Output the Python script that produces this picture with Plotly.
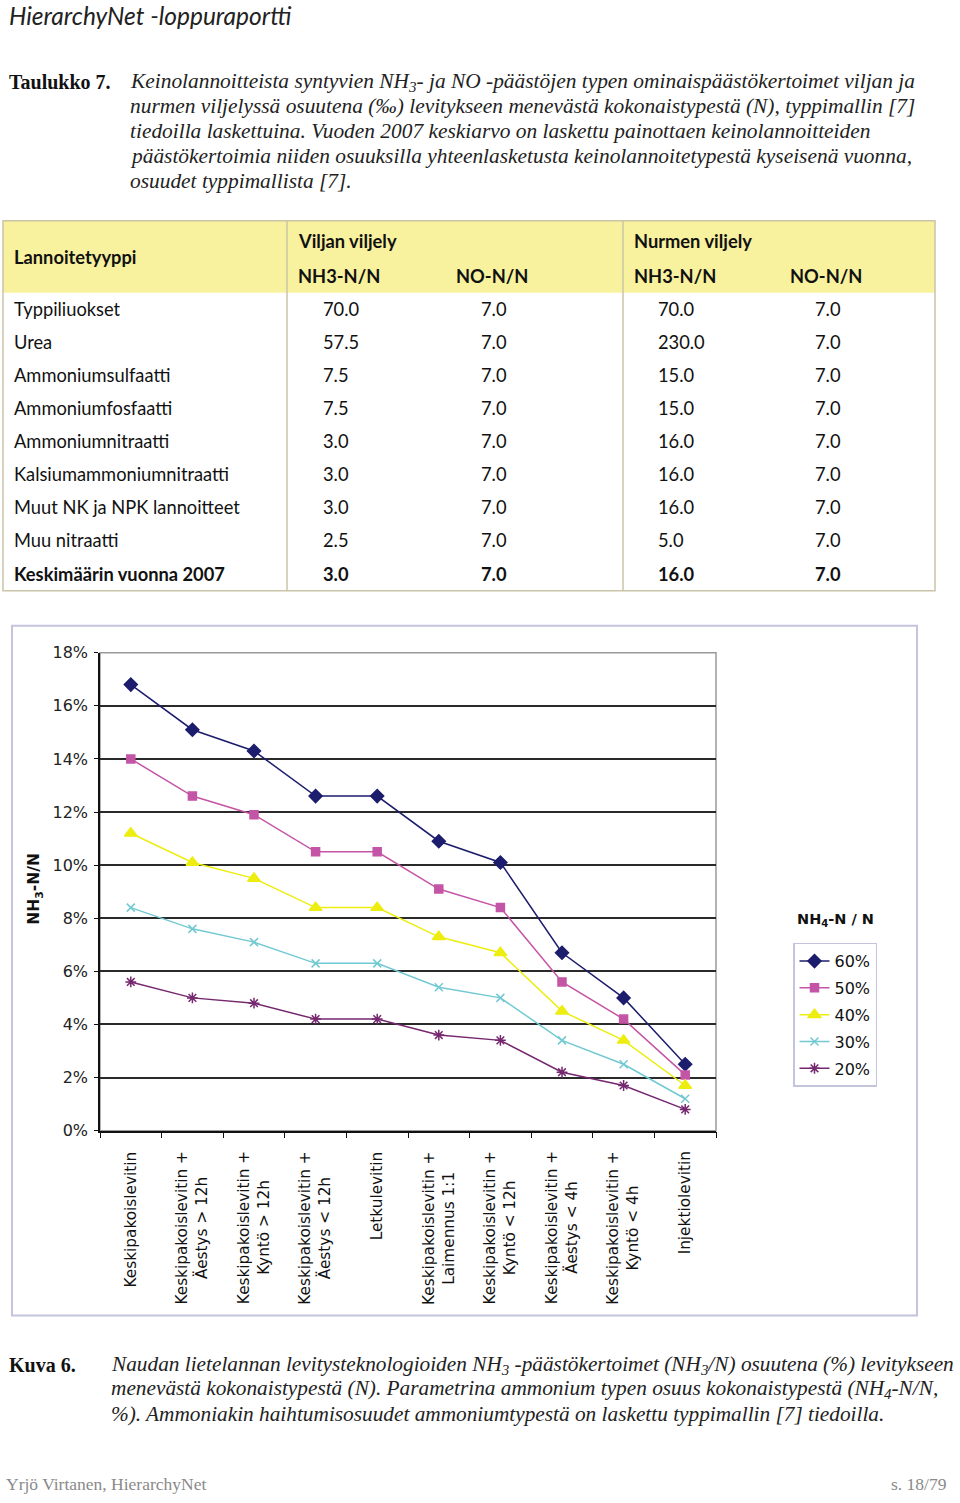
import plotly.graph_objects as go

W, H = 960, 1503

# ---------------- text content ----------------
page_header = "HierarchyNet -loppuraportti"
table_label = "Taulukko 7."
table_caption_lines = [
    "Keinolannoitteista syntyvien NH<sub>3</sub>- ja NO -päästöjen typen ominaispäästökertoimet viljan ja",
    "nurmen viljelyssä osuutena (‰) levitykseen menevästä kokonaistypestä (N), typpimallin [7]",
    "tiedoilla laskettuina. Vuoden 2007 keskiarvo on laskettu painottaen keinolannoitteiden",
    "päästökertoimia niiden osuuksilla yhteenlasketusta keinolannoitetypestä kyseisenä vuonna,",
    "osuudet typpimallista [7].",
]
figure_label = "Kuva 6."
figure_caption_lines = [
    "Naudan lietelannan levitysteknologioiden NH<sub>3</sub> -päästökertoimet (NH<sub>3</sub>/N) osuutena (%) levitykseen",
    "menevästä kokonaistypestä (N). Parametrina ammonium typen osuus kokonaistypestä (NH<sub>4</sub>-N/N,",
    "%). Ammoniakin haihtumisosuudet ammoniumtypestä on laskettu typpimallin [7] tiedoilla.",
]
footer_left = "Yrjö Virtanen, HierarchyNet"
footer_right = "s. 18/79"

# ---------------- table data ----------------
table_col_header = "Lannoitetyyppi"
table_groups = ["Viljan viljely", "Nurmen viljely"]
table_subheaders = ["NH3-N/N", "NO-N/N", "NH3-N/N", "NO-N/N"]
fert_types = [
    "Typpiliuokset", "Urea", "Ammoniumsulfaatti", "Ammoniumfosfaatti",
    "Ammoniumnitraatti", "Kalsiumammoniumnitraatti", "Muut NK ja NPK lannoitteet",
    "Muu nitraatti", "Keskimäärin vuonna 2007",
]
grain_nh3 = [70.0, 57.5, 7.5, 7.5, 3.0, 3.0, 3.0, 2.5, 3.0]
grain_no = [7.0, 7.0, 7.0, 7.0, 7.0, 7.0, 7.0, 7.0, 7.0]
grass_nh3 = [70.0, 230.0, 15.0, 15.0, 16.0, 16.0, 16.0, 5.0, 16.0]
grass_no = [7.0, 7.0, 7.0, 7.0, 7.0, 7.0, 7.0, 7.0, 7.0]

# ---------------- chart data ----------------
methods = [
    "Keskipakoislevitin",
    "Keskipakoislevitin +<br>Äestys > 12h",
    "Keskipakoislevitin +<br>Kyntö > 12h",
    "Keskipakoislevitin +<br>Äestys < 12h",
    "Letkulevitin",
    "Keskipakoislevitin +<br>Laimennus 1:1",
    "Keskipakoislevitin +<br>Kyntö < 12h",
    "Keskipakoislevitin +<br>Äestys < 4h",
    "Keskipakoislevitin +<br>Kyntö < 4h",
    "Injektiolevitin",
]
series_names = ["60%", "50%", "40%", "30%", "20%"]
nh3_60 = [16.8, 15.1, 14.3, 12.6, 12.6, 10.9, 10.1, 6.7, 5.0, 2.5]
nh3_50 = [14.0, 12.6, 11.9, 10.5, 10.5, 9.1, 8.4, 5.6, 4.2, 2.1]
nh3_40 = [11.2, 10.1, 9.5, 8.4, 8.4, 7.3, 6.7, 4.5, 3.4, 1.7]
nh3_30 = [8.4, 7.6, 7.1, 6.3, 6.3, 5.4, 5.0, 3.4, 2.5, 1.2]
nh3_20 = [5.6, 5.0, 4.8, 4.2, 4.2, 3.6, 3.4, 2.2, 1.7, 0.8]
y_ticks = [0, 2, 4, 6, 8, 10, 12, 14, 16, 18]
y_ticktext = ["0%", "2%", "4%", "6%", "8%", "10%", "12%", "14%", "16%", "18%"]

# ---------------- layout helpers (target pixel -> paper) ----------------
# the rendered page appears slightly compressed vertically; compensate
VS, VO = 0.9875, 8.2

def px(x):
    return x / W

def page_y(y):
    return (y - VO) / VS

def py(y):
    return 1 - page_y(y) / H

SERIF = "Liberation Serif"
SANS = "Lato"
CHART = "DejaVu Sans"

fig = go.Figure()
ann = []
shapes = []

def text(x, y, s, size, family, color="#111", xanchor="left", yanchor="middle", angle=0):
    ann.append(dict(x=px(x), y=py(y), xref="paper", yref="paper", text=s, showarrow=False,
                    xanchor=xanchor, yanchor=yanchor, textangle=angle,
                    font=dict(size=size, family=family, color=color)))

# header (kept just inside the top edge)
ann.append(dict(x=px(7), y=1 - 7 / H, xref="paper", yref="paper",
                text="<i>" + page_header + "</i>", showarrow=False,
                xanchor="left", yanchor="middle",
                font=dict(size=24.5, family=SANS, color="#222")))

# table caption
text(7, 81, "<b>" + table_label + "</b>", 20, SERIF)
for i, line in enumerate(table_caption_lines):
    text(128, 81 + i * 24.7, "<i>" + line + "</i>", 21.4, SERIF, "#222")

# ---------------- table ----------------
t_left, t_right, t_top, t_head_bottom, t_bottom = 3, 935, 220, 292, 590
col_sep = [287, 623]
border = "#cac4a8"
shapes.append(dict(type="rect", xref="paper", yref="paper", x0=px(t_left), x1=px(t_right),
                   y0=py(t_head_bottom), y1=py(t_top), fillcolor="#f8f29e", line=dict(width=0), layer="below"))
shapes.append(dict(type="rect", xref="paper", yref="paper", x0=px(t_left), x1=px(t_right),
                   y0=py(t_bottom), y1=py(t_top), line=dict(color=border, width=1.5)))
for cx in col_sep:
    shapes.append(dict(type="line", xref="paper", yref="paper", x0=px(cx), x1=px(cx),
                       y0=py(t_bottom), y1=py(t_top), line=dict(color=border, width=1.5)))

TF = 18.3
text(12, 256, "<b>" + table_col_header + "</b>", TF, SANS)
text(296, 240, "<b>" + table_groups[0] + "</b>", TF, SANS)
text(632, 240, "<b>" + table_groups[1] + "</b>", TF, SANS)
for hx, h in zip([296, 454, 632, 788], table_subheaders):
    text(hx, 275, "<b>" + h + "</b>", TF, SANS)

row_y0, row_step = 308, 33.1
value_cols = [grain_nh3, grain_no, grass_nh3, grass_no]
value_x = [321, 479, 656, 813]
for r, name in enumerate(fert_types):
    yy = row_y0 + r * row_step
    bold = r == len(fert_types) - 1
    wrap = (lambda s: "<b>" + s + "</b>") if bold else (lambda s: s)
    text(12, yy, wrap(name), TF, SANS)
    for vx, col in zip(value_x, value_cols):
        text(vx, yy, wrap(f"{col[r]:.1f}"), TF, SANS)

# ---------------- chart ----------------
shapes.append(dict(type="rect", xref="paper", yref="paper", x0=px(12), x1=px(917),
                   y0=py(1315), y1=py(625), line=dict(color="#c4c4dc", width=2), layer="below"))
# plot area top/right border (gray)
shapes.append(dict(type="rect", xref="x domain", yref="y domain", x0=0, x1=1, y0=0, y1=1,
                   line=dict(color="#9a9a9a", width=1.5), layer="below"))

colors = ["#1d1d6e", "#c455a6", "#eded10", "#72c9d2", "#75286f"]
symbols = ["diamond", "square", "triangle-up", "x-thin-open", "asterisk-open"]
sizes = [10, 8, 11, 8, 9]
all_series = [nh3_60, nh3_50, nh3_40, nh3_30, nh3_20]
xs = list(range(len(methods)))
for name, vals, c, s, sz in zip(series_names, all_series, colors, symbols, sizes):
    fig.add_trace(go.Scatter(
        x=xs, y=vals, name=name, legendgroup=name, mode="lines+markers",
        line=dict(color=c, width=1.5),
        marker=dict(symbol=s, size=sz, color=c, line=dict(color=c, width=1.5)),
    ))

for i, m in enumerate(methods):
    ann.append(dict(x=i, y=py(1149), xref="x", yref="paper", text=m, showarrow=False,
                    textangle=-90, xanchor="center", yanchor="top", align="center",
                    font=dict(size=15.3, family=CHART, color="#111")))

text(35, 888, "<b>NH<sub>3</sub>-N/N</b>", 15.5, CHART, "#111", xanchor="center", angle=-90)
text(795, 919, "<b>NH<sub>4</sub>-N / N</b>", 14.5, CHART, "#111")

fig.update_layout(
    width=W, height=H, autosize=False,
    margin=dict(l=0, r=0, t=0, b=0),
    paper_bgcolor="white", plot_bgcolor="white",
    showlegend=True,
    legend=dict(x=px(793), y=py(942), xanchor="left", yanchor="top",
                bordercolor="#c4c4dc", borderwidth=1.5, bgcolor="white",
                font=dict(size=16, family=CHART, color="#111"),
                tracegroupgap=3, itemwidth=30),
    xaxis=dict(domain=[px(100), px(716)], range=[-0.5, len(methods) - 0.5],
               tickvals=[i - 0.5 for i in range(len(methods) + 1)],
               showticklabels=False, ticks="outside", ticklen=6, tickcolor="#111",
               showgrid=False, zeroline=False, showline=True, linecolor="#111", linewidth=1.5),
    yaxis=dict(domain=[py(1130), py(652)], range=[0, 18], tickvals=y_ticks, ticktext=y_ticktext,
               ticks="outside", ticklen=4, tickcolor="#111", ticklabelstandoff=3,
               tickfont=dict(size=16, family=CHART, color="#222"),
               showgrid=True, gridcolor="#2a2a2a", gridwidth=1.5,
               zeroline=False, showline=True, linecolor="#111", linewidth=1.5),
    shapes=shapes,
)

# figure caption
text(7, 1364, "<b>" + figure_label + "</b>", 20, SERIF)
for i, line in enumerate(figure_caption_lines):
    text(109, 1364 + i * 24.6, "<i>" + line + "</i>", 21.3, SERIF, "#222")

# footer (anchored at the bottom edge)
for fx, ftxt, anchor in [(5, footer_left, "left"), (948, footer_right, "right")]:
    ann.append(dict(x=px(fx), y=0, xref="paper", yref="paper", text=ftxt, showarrow=False,
                    xanchor=anchor, yanchor="bottom", borderpad=0, yshift=-2,
                    font=dict(size=17.5, family=SERIF, color="#8a8a8a")))

fig.update_layout(annotations=ann)

fig.write_html("out.html", config={"displayModeBar": False},
               post_script="document.body.style.margin='0';document.body.style.overflow='hidden';")
